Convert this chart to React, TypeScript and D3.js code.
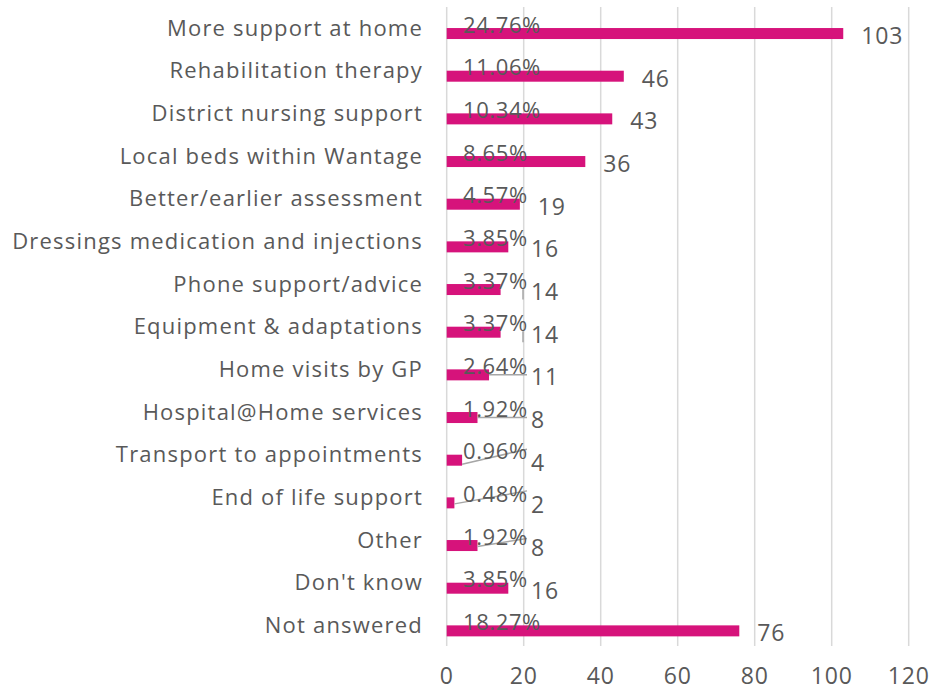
import React from "react";
import * as d3 from "d3";

const categories = [
  "More support at home",
  "Rehabilitation therapy",
  "District nursing support",
  "Local beds within Wantage",
  "Better/earlier assessment",
  "Dressings medication and injections",
  "Phone support/advice",
  "Equipment & adaptations",
  "Home visits by GP",
  "Hospital@Home services",
  "Transport to appointments",
  "End of life support",
  "Other",
  "Don't know",
  "Not answered",
];
const counts = [103, 46, 43, 36, 19, 16, 14, 14, 11, 8, 4, 2, 8, 16, 76];
const percents = [
  "24.76%", "11.06%", "10.34%", "8.65%", "4.57%", "3.85%", "3.37%", "3.37%",
  "2.64%", "1.92%", "0.96%", "0.48%", "1.92%", "3.85%", "18.27%",
];
const xTicks = [0, 20, 40, 60, 80, 100, 120];
// leader lines: [category index, start dy, end dy]
const leaders: [number, number, number][] = [
  [6, -1, 10],
  [7, -1, 10],
  [8, 0, 0],
  [9, 0, 0],
  [10, 4, -11],
  [11, 1, -12],
  [12, 1, -7],
];

const W = 933;
const H = 691;
const FONT = "'Open Sans', 'DejaVu Sans', sans-serif";
const TEXT = "#595959";
const BAR = "#D6137B";

export default function App() {
  const x = d3.scaleLinear().domain([0, 120]).range([446.7, 908.7]);
  const y = d3.scaleBand<string>().domain(categories).range([12.2, 652.2]);
  const barH = 11;
  const gridTop = 7;
  const gridBottom = 646;
  const leaderEndX = 527;

  return (
    <svg
      width={W}
      height={H}
      style={{ position: "absolute", left: 0, top: 0, background: "#fff" }}
      fontFamily={FONT}
    >
      {xTicks.map((t) => (
        <line
          key={"g" + t}
          x1={x(t)}
          x2={x(t)}
          y1={gridTop}
          y2={gridBottom}
          stroke="#d9d9d9"
          strokeWidth={1.5}
        />
      ))}
      {xTicks.map((t) => (
        <text
          key={"t" + t}
          x={x(t)}
          y={684}
          textAnchor="middle"
          fontSize={23}
          letterSpacing={0.8}
          fill={TEXT}
        >
          {t}
        </text>
      ))}
      {categories.map((c, i) => {
        const cy = (y(c) as number) + y.bandwidth() / 2;
        return (
          <g key={c}>
            <text
              x={423}
              y={cy + 2}
              textAnchor="end"
              fontSize={22}
              letterSpacing={1.2}
              fill={TEXT}
            >
              {c}
            </text>
            <rect
              x={x(0)}
              y={cy - barH / 2}
              width={x(counts[i]) - x(0)}
              height={barH}
              fill={BAR}
            />
          </g>
        );
      })}
      {leaders.map(([i, d0, d1]) => {
        const c = categories[i];
        const cy = (y(c) as number) + y.bandwidth() / 2;
        const vertical = d0 === -1;
        const x0 = vertical ? leaderEndX - 4 : x(counts[i]);
        const x1 = vertical ? leaderEndX - 4 : leaderEndX;
        return (
          <line
            key={"l" + i}
            x1={x0}
            y1={cy + d0}
            x2={x1}
            y2={cy + d1}
            stroke="#a6a6a6"
            strokeWidth={1.5}
          />
        );
      })}
      {categories.map((c, i) => {
        const cy = (y(c) as number) + y.bandwidth() / 2;
        return (
          <text
            key={"p" + c}
            x={463}
            y={cy - 1}
            fontSize={22}
            letterSpacing={0.6}
            fill={TEXT}
          >
            {percents[i]}
          </text>
        );
      })}
      {categories.map((c, i) => {
        const cy = (y(c) as number) + y.bandwidth() / 2;
        const lx = Math.max(x(counts[i]) + 18, 531);
        return (
          <text
            key={"v" + c}
            x={lx}
            y={cy + 10.5}
            fontSize={23}
            letterSpacing={0.8}
            fill={TEXT}
          >
            {counts[i]}
          </text>
        );
      })}
    </svg>
  );
}
